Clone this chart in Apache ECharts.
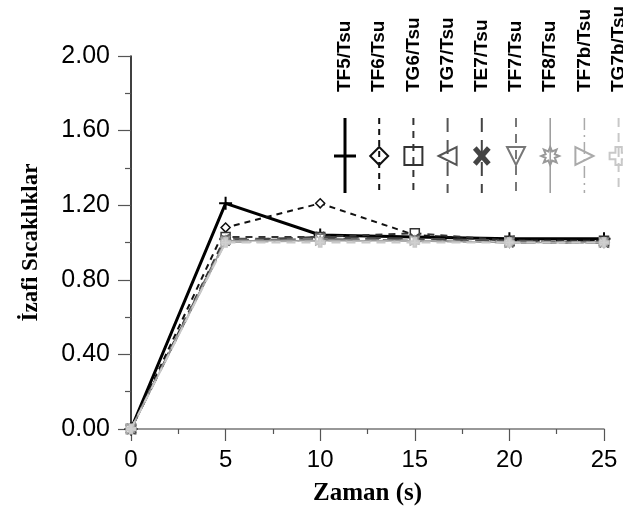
<!DOCTYPE html>
<html>
<head>
<meta charset="utf-8">
<title>İzafi Sıcaklıklar</title>
<script src="https://cdn.jsdelivr.net/npm/echarts@6/dist/echarts.min.js"></script>
<style>
html, body { margin: 0; padding: 0; background: #fff; }
#chart { width: 623px; height: 515px; }
</style>
</head>
<body>
<div id="chart"></div>
<script>
// zaman (s)
var zaman = [0, 5, 10, 15, 20, 25];
var serieAdlari = ['TF5/Tsu', 'TF6/Tsu', 'TG6/Tsu', 'TG7/Tsu', 'TE7/Tsu', 'TF7/Tsu', 'TF8/Tsu', 'TF7b/Tsu', 'TG7b/Tsu'];
// izafi sicakliklar
var TF5  = [0, 1.21, 1.04, 1.03, 1.02, 1.02];
var TF6  = [0, 1.08, 1.21, 1.04, 1.01, 1.01];
var TG6  = [0, 1.03, 1.03, 1.05, 1.01, 1.01];
var TG7  = [0, 1.02, 1.02, 1.02, 1.01, 1.00];
var TE7  = [0, 1.01, 1.03, 1.02, 1.00, 1.00];
var TF7  = [0, 1.01, 1.02, 1.01, 1.00, 1.00];
var TF8  = [0, 1.01, 1.01, 1.01, 1.00, 1.00];
var TF7b = [0, 1.00, 1.01, 1.01, 1.00, 1.00];
var TG7b = [0, 1.00, 1.00, 1.00, 1.00, 1.00];
var degerler = [TF5, TF6, TG6, TG7, TE7, TF7, TF8, TF7b, TG7b];

// marker outlines in unit coordinates
function star(n, r1, r2) {
	var p = [];
	for (var k = 0; k < 2 * n; k++) {
		var a = -Math.PI / 2 + k * Math.PI / n;
		var r = (k % 2 == 0) ? r1 : r2;
		p.push([r * Math.cos(a), r * Math.sin(a)]);
	}
	return p;
}
var sekiller = {
	plus: null,
	diamond: [[0, -1], [1, 0], [0, 1], [-1, 0]],
	square: [[-1, -1], [1, -1], [1, 1], [-1, 1]],
	triLeft: [[-1, 0], [1, -1], [1, 1]],
	cross: null,
	triDown: [[-1, -1], [1, -1], [0, 1]],
	star: star(8, 1, 0.55),
	triRight: [[1, 0], [-1, -1], [-1, 1]],
	hollowPlus: [[-0.35, -1], [0.35, -1], [0.35, -0.35], [1, -0.35], [1, 0.35], [0.35, 0.35], [0.35, 1], [-0.35, 1], [-0.35, 0.35], [-1, 0.35], [-1, -0.35], [-0.35, -0.35]]
};
function yolYap(pts) {
	var s = 'path://';
	for (var i = 0; i < pts.length; i++) {
		s += (i == 0 ? 'M' : 'L') + (pts[i][0] * 10 + 10).toFixed(2) + ',' + (pts[i][1] * 10 + 10).toFixed(2);
	}
	return s + 'Z';
}

// style of each series: colour, width, dash, marker
var stiller = [
	{ renk: '#000000', kalin: 3,   kesik: null,          isaret: 'plus' },
	{ renk: '#111111', kalin: 2,   kesik: [6, 5],        isaret: 'diamond' },
	{ renk: '#333333', kalin: 2,   kesik: [7, 6],        isaret: 'square' },
	{ renk: '#555555', kalin: 2,   kesik: [14, 8],       isaret: 'triLeft' },
	{ renk: '#444444', kalin: 2,   kesik: [14, 8],       isaret: 'cross' },
	{ renk: '#777777', kalin: 2,   kesik: [9, 7],        isaret: 'triDown' },
	{ renk: '#999999', kalin: 1.5, kesik: null,          isaret: 'star' },
	{ renk: '#aaaaaa', kalin: 1.5, kesik: [12, 5, 2, 5], isaret: 'triRight' },
	{ renk: '#c8c8c8', kalin: 2,   kesik: [9, 6],        isaret: 'hollowPlus' }
];

function veriIsareti(ad) {
	if (ad == 'plus') return 'path://M0,10L20,10M10,0L10,20';
	if (ad == 'cross') return 'path://M0,0L20,20M20,0L0,20';
	return yolYap(sekiller[ad]);
}

var seriler = [];
for (var i = 0; i < serieAdlari.length; i++) {
	var st = stiller[i];
	seriler.push({
		name: serieAdlari[i],
		type: 'line',
		data: zaman.map(function (x, j) { return [x, degerler[i][j]]; }),
		symbol: veriIsareti(st.isaret),
		symbolSize: (st.isaret == 'plus') ? 13 : 9,
		showAllSymbol: true,
		lineStyle: { color: st.renk, width: st.kalin, type: st.kesik ? st.kesik : 'solid' },
		itemStyle: {
			color: (st.isaret == 'hollowPlus') ? '#d0d0d0' : '#ffffff',
			borderColor: st.renk,
			borderWidth: (st.isaret == 'cross') ? 3 : (st.isaret == 'plus' ? 2 : 1.5)
		},
		emphasis: { disabled: true },
		z: 2 + i
	});
}

// vertical legend at the top right, drawn by hand
var lejant = [];
var lx0 = 345, ladim = 34.2, lyUst = 118, lyAlt = 193, lyIsaret = 156, lr = 9;
for (var i = 0; i < serieAdlari.length; i++) {
	var st = stiller[i];
	var x = lx0 + i * ladim;
	lejant.push({
		type: 'text', x: x, y: 92, rotation: Math.PI / 2,
		style: { text: serieAdlari[i], fill: '#000', font: 'bold 19px "Liberation Sans"',
			textAlign: 'left', textVerticalAlign: 'middle', align: 'left', verticalAlign: 'middle' }
	});
	lejant.push({
		type: 'line', shape: { x1: x, y1: lyUst, x2: x, y2: lyAlt },
		style: { stroke: st.renk, lineWidth: st.kalin, lineDash: st.kesik }
	});
	if (st.isaret == 'plus') {
		lejant.push({ type: 'line', shape: { x1: x - 11, y1: lyIsaret, x2: x + 11, y2: lyIsaret },
			style: { stroke: st.renk, lineWidth: 3 } });
	} else if (st.isaret == 'cross') {
		lejant.push({ type: 'line', shape: { x1: x - 7, y1: lyIsaret - 8, x2: x + 7, y2: lyIsaret + 8 },
			style: { stroke: st.renk, lineWidth: 5 } });
		lejant.push({ type: 'line', shape: { x1: x + 7, y1: lyIsaret - 8, x2: x - 7, y2: lyIsaret + 8 },
			style: { stroke: st.renk, lineWidth: 5 } });
	} else {
		var pts = sekiller[st.isaret].map(function (p) { return [x + p[0] * lr, lyIsaret + p[1] * lr]; });
		lejant.push({
			type: 'polygon', shape: { points: pts },
			style: { fill: 'rgba(255,255,255,0)', stroke: st.renk, lineWidth: 2 }
		});
	}
}

var grafik = echarts.init(document.getElementById('chart'));
grafik.setOption({
	animation: false,
	backgroundColor: '#ffffff',
	grid: { left: 131, right: 19, top: 56, bottom: 86, containLabel: false },
	xAxis: {
		type: 'value', min: 0, max: 25, interval: 5,
		name: 'Zaman (s)', nameLocation: 'middle', nameGap: 52,
		nameTextStyle: { fontFamily: 'Liberation Serif', fontWeight: 'bold', fontSize: 25, color: '#000' },
		axisLine: { show: true, onZero: false, lineStyle: { color: '#777', width: 1.5 } },
		axisTick: { show: true, length: 12, lineStyle: { color: '#555', width: 1.2 } },
		minorTick: { show: true, splitNumber: 2, length: 5, lineStyle: { color: '#555', width: 1.2 } },
		axisLabel: { fontFamily: 'Liberation Sans', fontSize: 24, color: '#000', margin: 19 },
		splitLine: { show: false }
	},
	yAxis: {
		type: 'value', min: 0, max: 2, interval: 0.4,
		name: 'İzafi Sıcaklıklar', nameLocation: 'middle', nameGap: 88, nameRotate: 90,
		nameTextStyle: { fontFamily: 'Liberation Serif', fontWeight: 'bold', fontSize: 23, color: '#000' },
		axisLine: { show: true, onZero: false, lineStyle: { color: '#000', width: 1.5 } },
		axisTick: { show: true, length: 13, lineStyle: { color: '#555', width: 1.2 } },
		minorTick: { show: true, splitNumber: 2, length: 6, lineStyle: { color: '#555', width: 1.2 } },
		axisLabel: { fontFamily: 'Liberation Sans', fontSize: 25, color: '#000', margin: 21,
			formatter: function (v) { return v.toFixed(2); } },
		splitLine: { show: false }
	},
	graphic: lejant,
	series: seriler
});
</script>
</body>
</html>
